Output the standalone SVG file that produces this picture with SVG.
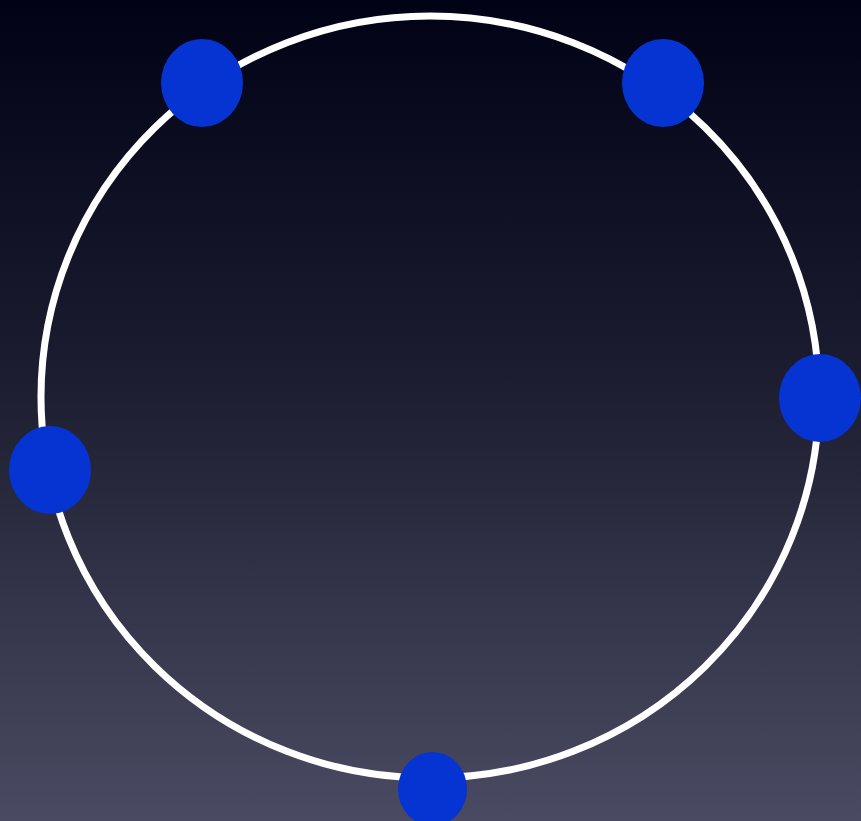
<svg xmlns="http://www.w3.org/2000/svg" width="861" height="821" viewBox="0 0 861 821">
<defs>
<linearGradient id="bg" x1="0" y1="0" x2="0" y2="1">
<stop offset="0" stop-color="#020216"/>
<stop offset="0.45" stop-color="#1c1c30"/>
<stop offset="1" stop-color="#4a4a62"/>
</linearGradient>
</defs>
<style>
.ring{fill:none;stroke:#ffffff;stroke-width:7}
.dot{fill:#0634d2}
</style>
<rect width="861" height="821" fill="url(#bg)"/>
<g id="connectors">
<ellipse class="ring" cx="430" cy="397" rx="389" ry="381"/>
</g>
<g id="node1"><ellipse class="dot" cx="202" cy="83" rx="41" ry="44"/></g>
<g id="node2"><ellipse class="dot" cx="663" cy="83" rx="41" ry="44"/></g>
<g id="node3"><ellipse class="dot" cx="820" cy="398" rx="41" ry="44"/></g>
<g id="node4"><ellipse class="dot" cx="50" cy="470" rx="41" ry="44"/></g>
<g id="node5"><ellipse class="dot" cx="432.5" cy="789" rx="34.5" ry="37"/></g>
</svg>
